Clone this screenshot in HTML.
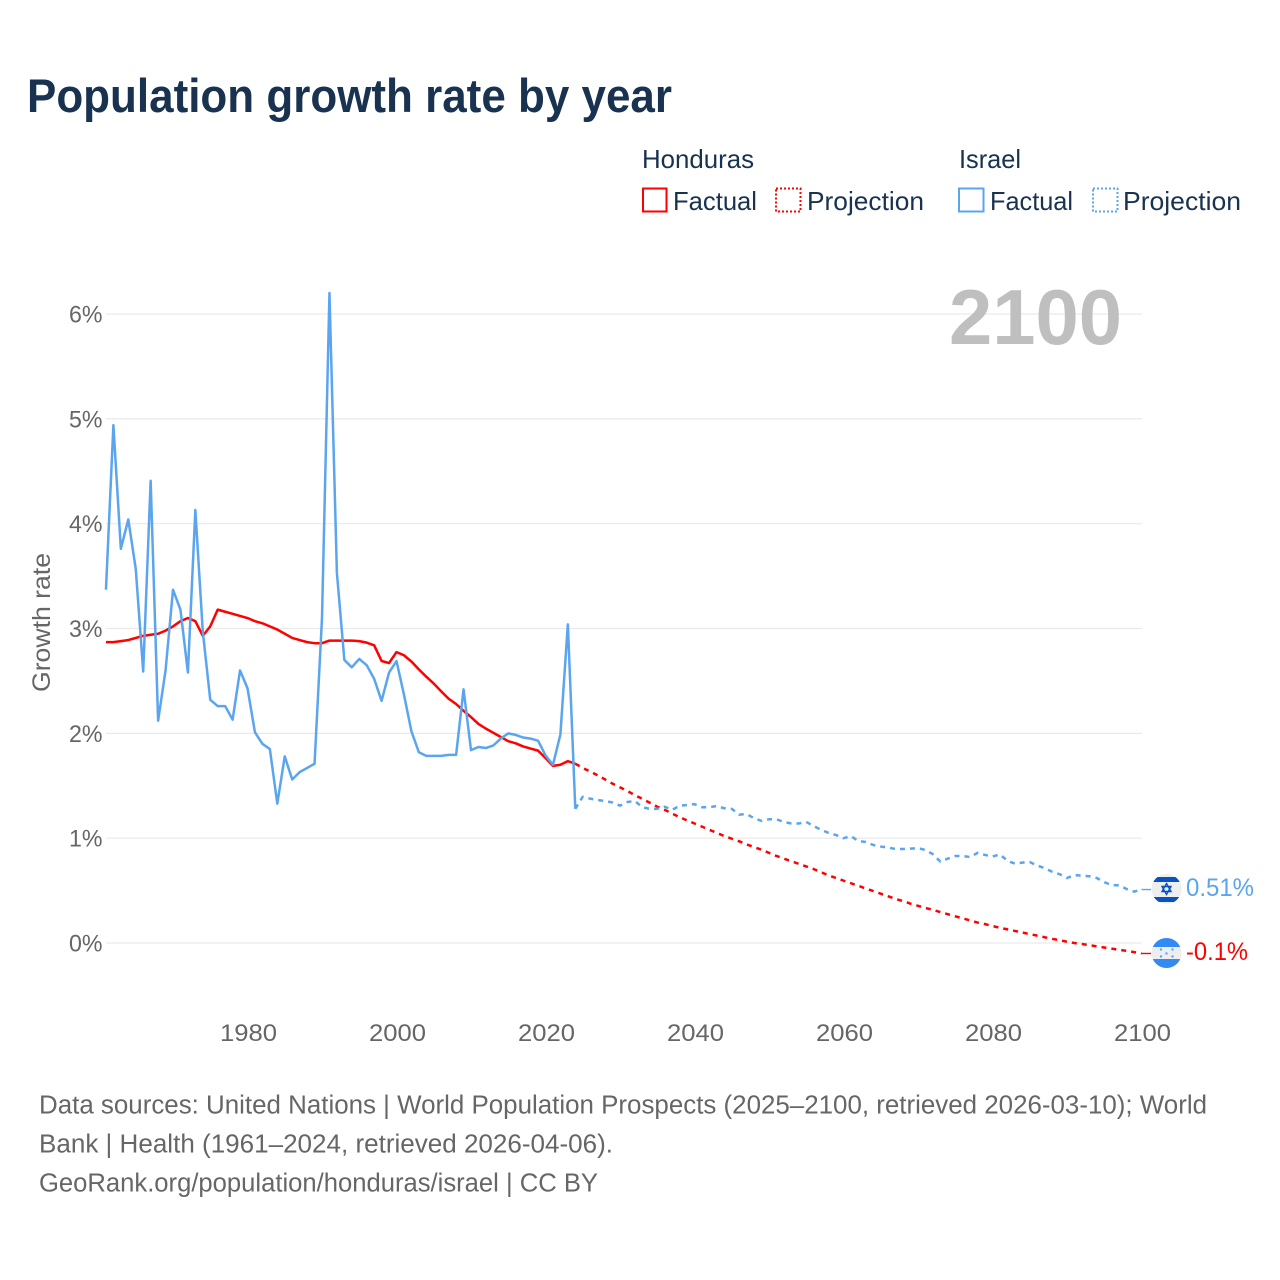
<!DOCTYPE html>
<html lang="en">
<head>
<meta charset="utf-8">
<title>Population growth rate by year</title>
<style>
html,body{margin:0;padding:0;background:#fff;}
svg{display:block;font-family:"Liberation Sans",sans-serif;}
</style>
</head>
<body>
<svg id="chart" xmlns="http://www.w3.org/2000/svg" width="1280" height="1280" viewBox="0 0 1280 1280">
  <rect x="0" y="0" width="1280" height="1280" fill="#fff"/>
  <text x="27" y="112" font-size="47" font-weight="700" fill="#18324f" textLength="645" lengthAdjust="spacingAndGlyphs">Population growth rate by year</text>

  <g font-size="26" fill="#18324f">
    <text x="642" y="168" textLength="112" lengthAdjust="spacingAndGlyphs">Honduras</text>
    <rect x="643" y="188.500" width="23.500" height="23" fill="none" stroke="#ff0000" stroke-width="2"/>
    <text x="673" y="210" textLength="84" lengthAdjust="spacingAndGlyphs">Factual</text>
    <rect x="776" y="188.500" width="24.500" height="23" fill="none" stroke="#ff0000" stroke-width="2" stroke-dasharray="2 2"/>
    <text x="807" y="210" textLength="117" lengthAdjust="spacingAndGlyphs">Projection</text>
    <text x="959" y="168" textLength="62" lengthAdjust="spacingAndGlyphs">Israel</text>
    <rect x="959" y="188.500" width="24.500" height="23" fill="none" stroke="#5ba5ef" stroke-width="2"/>
    <text x="990" y="210" textLength="83" lengthAdjust="spacingAndGlyphs">Factual</text>
    <rect x="1093" y="188.500" width="24.500" height="23" fill="none" stroke="#5ba5ef" stroke-width="2" stroke-dasharray="2 2"/>
    <text x="1123" y="210" textLength="118" lengthAdjust="spacingAndGlyphs">Projection</text>
  </g>

  <g id="grid"></g>
  <g id="y-ticks"></g>
  <g id="x-ticks"></g>

  <text x="949" y="344" font-size="78" font-weight="700" fill="#bfbfbf" textLength="173" lengthAdjust="spacingAndGlyphs">2100</text>
  <text transform="translate(50,692) rotate(-90)" font-size="25" fill="#666666" textLength="139" lengthAdjust="spacingAndGlyphs">Growth rate</text>

  <g id="series" fill="none" stroke-width="2.500" stroke-linejoin="round"></g>

  <defs>
    <clipPath id="flag-clip-il"><circle cx="1166.500" cy="889" r="15"/></clipPath>
    <clipPath id="flag-clip-hn"><circle cx="1166.500" cy="953" r="15"/></clipPath>
  </defs>
  <g clip-path="url(#flag-clip-il)">
    <rect x="1151" y="874" width="31" height="30" fill="#eeeeee"/>
    <rect x="1151" y="877" width="31" height="5" fill="#0a52bf"/>
    <rect x="1151" y="897" width="31" height="5" fill="#0a52bf"/>
    <polygon points="1166.500,883.500 1171,891.500 1162,891.500" fill="none" stroke="#0a52bf" stroke-width="1.400"/>
    <polygon points="1166.500,894.500 1171,886.500 1162,886.500" fill="none" stroke="#0a52bf" stroke-width="1.400"/>
  </g>
  <g clip-path="url(#flag-clip-hn)">
    <rect x="1151" y="938" width="31" height="30" fill="#eeeeee"/>
    <rect x="1151" y="938" width="31" height="9" fill="#338af3"/>
    <rect x="1151" y="959" width="31" height="9" fill="#338af3"/>
    <g fill="#5fa3f5">
      <circle cx="1161" cy="949.500" r="1.200"/><circle cx="1172.500" cy="949.500" r="1.200"/>
      <circle cx="1166.500" cy="953.500" r="1.200"/>
      <circle cx="1161" cy="956.500" r="1.200"/><circle cx="1172.500" cy="956.500" r="1.200"/>
    </g>
  </g>

  <text x="1186" y="896" font-size="25" fill="#5ba5ef" textLength="68" lengthAdjust="spacingAndGlyphs">0.51%</text>
  <text x="1186" y="960" font-size="25" fill="#ff0000" textLength="62" lengthAdjust="spacingAndGlyphs">-0.1%</text>

  <g font-size="25.500" fill="#666666">
    <text x="39" y="1113.500" textLength="1168" lengthAdjust="spacingAndGlyphs">Data sources: United Nations | World Population Prospects (2025–2100, retrieved 2026-03-10); World</text>
    <text x="39" y="1152.500" textLength="574" lengthAdjust="spacingAndGlyphs">Bank | Health (1961–2024, retrieved 2026-04-06).</text>
    <text x="39" y="1191.500" textLength="559" lengthAdjust="spacingAndGlyphs">GeoRank.org/population/honduras/israel | CC BY</text>
  </g>
</svg>

<script>
const factualStartYear = 1961;
const projectionStartYear = 2024;
const yTickValues = [0, 1, 2, 3, 4, 5, 6];
const yTickLabels = ["0%", "1%", "2%", "3%", "4%", "5%", "6%"];
const xTickValues = [1980, 2000, 2020, 2040, 2060, 2080, 2100];
const xTickLabels = ["1980", "2000", "2020", "2040", "2060", "2080", "2100"];

const hondurasFactual = [
  2.87,2.87,2.88,2.89,2.91,2.93,2.94,2.95,2.98,3.02,
  3.07,3.10,3.07,2.93,3.02,3.18,3.16,3.14,3.12,3.10,
  3.07,3.05,3.02,2.99,2.95,2.91,2.89,2.87,2.86,2.86,
  2.885,2.885,2.885,2.885,2.88,2.865,2.84,2.69,2.67,2.775,
  2.745,2.685,2.61,2.54,2.475,2.40,2.33,2.28,2.215,2.155,
  2.09,2.045,2.005,1.965,1.925,1.905,1.875,1.855,1.835,1.765,
  1.69,1.70,1.735,1.71
];
const israelFactual = [
  3.37,4.94,3.76,4.04,3.57,2.59,4.41,2.12,2.60,3.37,
  3.18,2.58,4.13,2.97,2.32,2.26,2.26,2.13,2.60,2.43,
  2.01,1.90,1.85,1.33,1.78,1.56,1.63,1.67,1.71,3.10,
  6.20,3.53,2.70,2.63,2.71,2.65,2.52,2.31,2.58,2.69,
  2.37,2.02,1.82,1.785,1.785,1.785,1.795,1.795,2.42,1.84,
  1.87,1.86,1.885,1.95,2.00,1.985,1.96,1.95,1.93,1.79,
  1.70,1.99,3.04,1.28
];
const hondurasProjection = [
  1.71,1.67,1.635,1.60,1.56,1.52,1.485,1.45,1.41,1.375,1.338,
  1.30,1.27,1.235,1.20,1.17,1.14,1.11,1.08,1.05,1.02,
  0.995,0.97,0.94,0.915,0.89,0.86,0.83,0.805,0.78,0.755,
  0.73,0.705,0.675,0.645,0.62,0.595,0.57,0.545,0.52,0.495,
  0.47,0.445,0.42,0.40,0.375,0.355,0.335,0.315,0.295,0.275,
  0.255,0.235,0.215,0.195,0.18,0.162,0.145,0.13,0.115,0.10,
  0.085,0.07,0.055,0.04,0.027,0.012,0.00,-0.01,-0.02,-0.032,
  -0.043,-0.054,-0.065,-0.075,-0.087,-0.10
];
const israelProjection = [
  1.28,1.395,1.377,1.364,1.355,1.34,1.31,1.345,1.355,1.295,1.28,
  1.28,1.30,1.27,1.31,1.316,1.325,1.295,1.295,1.307,1.285,
  1.28,1.225,1.23,1.19,1.165,1.18,1.18,1.155,1.14,1.14,
  1.155,1.115,1.08,1.05,1.03,1.00,1.02,0.973,0.964,0.935,
  0.92,0.91,0.897,0.897,0.90,0.905,0.887,0.847,0.776,0.805,
  0.83,0.83,0.82,0.86,0.84,0.825,0.845,0.785,0.757,0.767,
  0.773,0.738,0.715,0.68,0.657,0.62,0.648,0.642,0.637,0.62,
  0.58,0.553,0.55,0.515,0.49,0.51
];

function xScale(year) { return 247.5 + (year - 1980) * 7.45; }
function yScale(value) { return 943 - value * 104.83; }

const NS = "http://www.w3.org/2000/svg";
const gridGroup = document.getElementById("grid");
const yTickGroup = document.getElementById("y-ticks");
const xTickGroup = document.getElementById("x-ticks");
const seriesGroup = document.getElementById("series");

yTickValues.forEach(function (value, i) {
  const line = document.createElementNS(NS, "line");
  
  
  line.setAttribute("x1", 106);
  line.setAttribute("x2", 1142);
  line.setAttribute("y1", yScale(value));
  line.setAttribute("y2", yScale(value));
  line.setAttribute("stroke", "#e9e9e9");
  line.setAttribute("stroke-width", "1.2");
  gridGroup.appendChild(line);

  const label = document.createElementNS(NS, "text");
  
  
  label.setAttribute("x", 69);
  label.setAttribute("y", yScale(value) + 8.5);
  label.setAttribute("font-size", "24.5");
  label.setAttribute("fill", "#666666");
  label.setAttribute("textLength", "33.5");
  label.setAttribute("lengthAdjust", "spacingAndGlyphs");
  label.textContent = yTickLabels[i];
  yTickGroup.appendChild(label);
});

xTickValues.forEach(function (year, i) {
  const label = document.createElementNS(NS, "text");
  
  
  label.setAttribute("x", xScale(year) - 27.5);
  label.setAttribute("y", 1041);
  label.setAttribute("font-size", "24.5");
  label.setAttribute("fill", "#666666");
  label.setAttribute("textLength", "57");
  label.setAttribute("lengthAdjust", "spacingAndGlyphs");
  label.textContent = xTickLabels[i];
  xTickGroup.appendChild(label);
});

function seriesPoints(values, startYear) {
  return values.map(function (v, i) {
    return xScale(startYear + i).toFixed(2) + "," + yScale(v).toFixed(2);
  }).join(" ");
}

const hondurasFactualLine = document.createElementNS(NS, "polyline");


hondurasFactualLine.setAttribute("points", seriesPoints(hondurasFactual, factualStartYear));
hondurasFactualLine.setAttribute("stroke", "#ff0000");
seriesGroup.appendChild(hondurasFactualLine);

const hondurasProjectionLine = document.createElementNS(NS, "polyline");


hondurasProjectionLine.setAttribute("points", seriesPoints(hondurasProjection, projectionStartYear));
hondurasProjectionLine.setAttribute("stroke", "#ff0000");
hondurasProjectionLine.setAttribute("stroke-dasharray", "5 5");
seriesGroup.appendChild(hondurasProjectionLine);

const israelFactualLine = document.createElementNS(NS, "polyline");


israelFactualLine.setAttribute("points", seriesPoints(israelFactual, factualStartYear));
israelFactualLine.setAttribute("stroke", "#5ba5ef");
seriesGroup.appendChild(israelFactualLine);

const israelProjectionLine = document.createElementNS(NS, "polyline");


israelProjectionLine.setAttribute("points", seriesPoints(israelProjection, projectionStartYear));
israelProjectionLine.setAttribute("stroke", "#5ba5ef");
israelProjectionLine.setAttribute("stroke-dasharray", "5 5");
seriesGroup.appendChild(israelProjectionLine);

const hondurasConnector = document.createElementNS(NS, "line");


hondurasConnector.setAttribute("x1", xScale(2100));
hondurasConnector.setAttribute("x2", 1151);
hondurasConnector.setAttribute("y1", yScale(hondurasProjection[hondurasProjection.length - 1]));
hondurasConnector.setAttribute("y2", yScale(hondurasProjection[hondurasProjection.length - 1]));
hondurasConnector.setAttribute("stroke", "#ff0000");
hondurasConnector.setAttribute("stroke-width", "1.4");
seriesGroup.appendChild(hondurasConnector);

const israelConnector = document.createElementNS(NS, "line");


israelConnector.setAttribute("x1", xScale(2100));
israelConnector.setAttribute("x2", 1151);
israelConnector.setAttribute("y1", yScale(israelProjection[israelProjection.length - 1]));
israelConnector.setAttribute("y2", yScale(israelProjection[israelProjection.length - 1]));
israelConnector.setAttribute("stroke", "#5ba5ef");
israelConnector.setAttribute("stroke-width", "1.4");
seriesGroup.appendChild(israelConnector);
</script>
</body>
</html>
